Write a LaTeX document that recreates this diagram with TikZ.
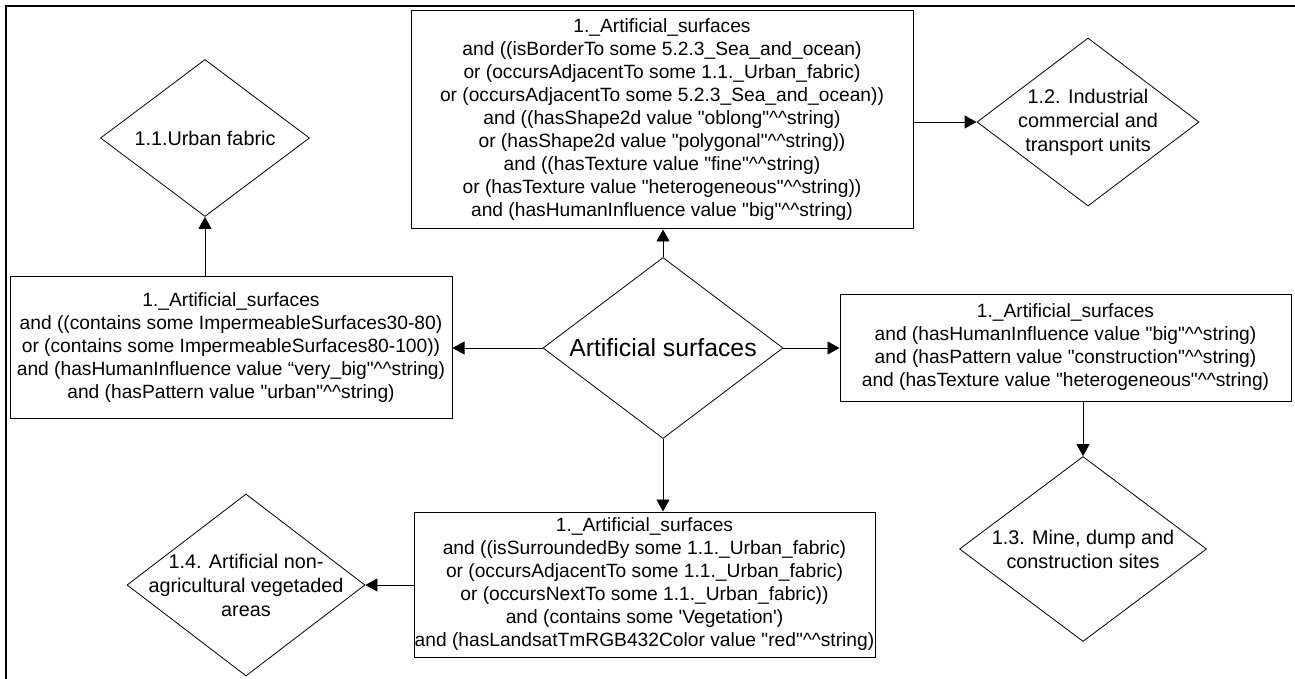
\documentclass[tikz,border=0pt]{standalone}
\usepackage{fontspec}
\setmainfont{Liberation Sans}
\usetikzlibrary{arrows.meta,shapes.geometric}
\newcommand{\strtype}{\textasciicircum\textasciicircum string}
\newcommand{\qt}{\textquotedbl}

\begin{document}
\begin{tikzpicture}[
  x=0.5pt,y=-0.5pt,
  >={Triangle[length=6pt,width=6.5pt]},
  every node/.style={font=\fontsize{9.6}{11.5}\selectfont},
  rule/.style={draw,line width=0.5pt,inner sep=0pt,align=center},
  class/.style={diamond,draw,line width=0.4pt,inner sep=0pt},
  classtext/.style={align=center,font=\fontsize{9.9}{12}\selectfont}
]
\useasboundingbox (0,0) rectangle (1295,679);
\draw[line width=1pt] (6,679) -- (6,6) -- (1295,6);

% start class
\node[class,minimum width=120pt,minimum height=90.5pt,
  label={[font=\fontsize{12.4}{14}\selectfont]center:Artificial surfaces}] (art) at (663,348) {};

% rules
\node[rule,minimum width=251pt,minimum height=109pt] (r12) at (662,120) {
  1.\_Artificial\_surfaces\\
  and ((isBorderTo some 5.2.3\_Sea\_and\_ocean)\\
  or (occursAdjacentTo some 1.1.\_Urban\_fabric)\\
  or (occursAdjacentTo some 5.2.3\_Sea\_and\_ocean))\\
  and ((hasShape2d value \qt oblong\qt\strtype)\\
  or (hasShape2d value \qt polygonal\qt\strtype))\\
  and ((hasTexture value \qt fine\qt\strtype)\\
  or (hasTexture value \qt heterogeneous\qt\strtype))\\
  and (hasHumanInfluence value \qt big\qt\strtype)};
\node[rule,minimum width=221pt,minimum height=70.5pt] (r11) at (231,347.5) {
  1.\_Artificial\_surfaces\\
  and ((contains some ImpermeableSurfaces30-80)\\
  or (contains some ImpermeableSurfaces80-100))\\
  and (hasHumanInfluence value “very\_big\qt\strtype)\\
  and (hasPattern value \qt urban\qt\strtype)};
\node[rule,minimum width=225.5pt,minimum height=53.5pt] (r13) at (1065.5,347.5) {
  1.\_Artificial\_surfaces\\
  and (hasHumanInfluence value \qt big\qt\strtype)\\
  and (hasPattern value \qt construction\qt\strtype)\\
  and (hasTexture value \qt heterogeneous\qt\strtype)};
\node[rule,minimum width=230.5pt,minimum height=72.5pt] (r14) at (644.5,584.5) {
  1.\_Artificial\_surfaces\\
  and ((isSurroundedBy some 1.1.\_Urban\_fabric)\\
  or (occursAdjacentTo some 1.1.\_Urban\_fabric)\\
  or (occursNextTo some 1.1.\_Urban\_fabric))\\
  and (contains some \textquotesingle Vegetation\textquotesingle)\\
  and (hasLandsatTmRGB432Color value \qt red\qt\strtype)};

% result classes
\node[class,minimum width=104.5pt,minimum height=78.5pt,
  label={[classtext]center:1.1.Urban fabric}] (c11) at (205,138) {};
\node[class,minimum width=111pt,minimum height=84pt,
  label={[classtext]center:{1.2. Industrial\\commercial and\\transport units}}] (c12) at (1088,122) {};
\node[class,minimum width=123.5pt,minimum height=92.5pt,
  label={[classtext]center:{1.3. Mine, dump and\\construction sites}}] (c13) at (1083,549) {};
\node[class,minimum width=119pt,minimum height=91pt,
  label={[classtext]center:{1.4. Artificial non-\\agricultural vegetaded\\areas}}] (c14) at (246,585) {};

\draw[->] (art.north) -- (art.north |- r12.south);
\draw[->] (art.west) -- (art.west -| r11.east);
\draw[->] (art.east) -- (art.east -| r13.west);
\draw[->] (art.south) -- (art.south |- r14.north);
\draw[->] (c11 |- r11.north) -- (c11.south);
\draw[->] (r12.east |- c12) -- (c12.west);
\draw[->] (c13 |- r13.south) -- (c13.north);
\draw[->] (r14.west |- c14) -- (c14.east);
\end{tikzpicture}
\end{document}
